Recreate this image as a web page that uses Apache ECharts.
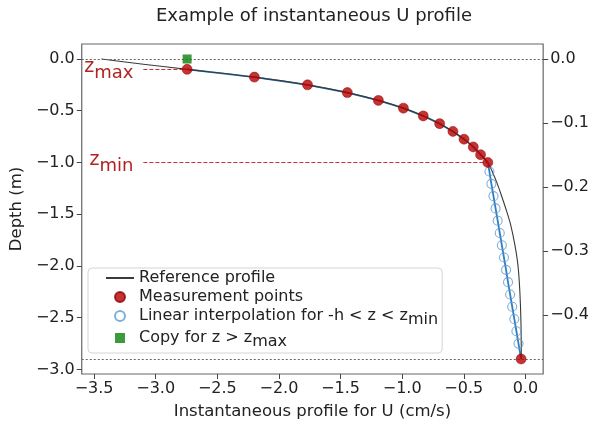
<!DOCTYPE html>
<html>
<head>
<meta charset="utf-8">
<title>Example of instantaneous U profile</title>
<script src="https://cdn.jsdelivr.net/npm/echarts@6/dist/echarts.min.js"></script>
<style>
    html, body { margin: 0; padding: 0; background: #fff; }
    #chart { width: 592px; height: 425px; }
</style>
</head>
<body>
<div id="chart"></div>
<script>
// water depth and the limits of the measured layer (m)
const h = 2.9;
const zMax = -0.1;
const zMin = -1.0;
const zLineStart = -3.1;

// reference profile
const refU = [-3.44, -3.10, -2.745, -2.199, -1.768, -1.445, -1.193, -0.990, -0.829, -0.696, -0.588, -0.498, -0.423, -0.364, -0.305,
    -0.265, -0.230, -0.200, -0.158, -0.120, -0.085, -0.060, -0.045, -0.036, -0.033];
const refZ = [0, -0.05, -0.1, -0.175, -0.25, -0.325, -0.4, -0.475, -0.55, -0.625, -0.7, -0.775, -0.85, -0.925, -1.0,
    -1.1, -1.2, -1.3, -1.45, -1.6, -1.8, -2.0, -2.25, -2.55, -2.9];

// measurement points (last one sits on the bottom)
const measU = [-2.745, -2.199, -1.768, -1.445, -1.193, -0.990, -0.829, -0.696, -0.588, -0.498, -0.423, -0.364, -0.305, -0.035];
const measZ = [-0.1, -0.175, -0.25, -0.325, -0.4, -0.475, -0.55, -0.625, -0.7, -0.775, -0.85, -0.925, -1.0, -2.9];

// interpolated values between z_min and the bottom
const interpU = [-0.292, -0.276, -0.259, -0.242, -0.225, -0.208, -0.191, -0.174, -0.157, -0.141, -0.124, -0.107, -0.090, -0.073, -0.056];
const interpZ = [-1.088, -1.207, -1.326, -1.444, -1.563, -1.682, -1.801, -1.919, -2.038, -2.157, -2.276, -2.395, -2.513, -2.632, -2.751];

// copied value above z_max
const copyU = [-2.745];
const copyZ = [0];

// tick labels
const xTicks = [-3.5, -3.0, -2.5, -2.0, -1.5, -1.0, -0.5, 0.0];
const yTicks = [0.0, -0.5, -1.0, -1.5, -2.0, -2.5, -3.0];
const rightTicks = [0.0, -0.1, -0.2, -0.3, -0.4];

const FONT = "DejaVu Sans";
const NAME_REF = "Reference profile";
const NAME_MEAS = "Measurement points";
const NAME_INTERP = "Linear interpolation for -h < z < z_min";
const NAME_COPY = "Copy for z > z_max";

const chart = echarts.init(document.getElementById("chart"), null, {renderer: "canvas"});

function pairs(us, zs) {
    return us.map((u, i) => [u, zs[i]]);
}

function fmt(v) {
    return v.toFixed(1).replace("-", "\u2212");
}

// blue line: measurement points with the interpolated values before the bottom point
const bluePts = pairs(measU.slice(0, 13), measZ.slice(0, 13))
    .concat(pairs(interpU, interpZ))
    .concat(pairs(measU.slice(13), measZ.slice(13)));

const zLabel = function (sub) {
    return {
        show: true,
        position: "start",
        distance: 10,
        formatter: "{z|z}{s|" + sub + "}",
        rich: {
            z: {fontFamily: FONT, fontSize: 19, color: "#b22222", padding: [0, 0, 4, 0]},
            s: {fontFamily: FONT, fontSize: 18, color: "#b22222", padding: [8, 0, 0, 0]}
        }
    };
};

function tickAxis(ticks) {
    return {
        axisLine: {show: false, onZero: false},
        axisTick: {show: true, inside: false, length: 5, lineStyle: {color: "#444"}, customValues: ticks},
        axisLabel: {fontFamily: FONT, fontSize: 16, color: "#222", margin: 7, formatter: fmt, customValues: ticks},
        splitLine: {show: false}
    };
}

const option = {
    animation: false,
    backgroundColor: "#fff",
    title: {
        text: "Example of instantaneous U profile",
        left: 309,
        textAlign: "center",
        top: 2,
        textStyle: {fontFamily: FONT, fontSize: 18, fontWeight: "normal", color: "#222"}
    },
    grid: {
        left: 78, right: 48, top: 44, bottom: 51,
        show: true, borderColor: "#666", borderWidth: 1.2
    },
    legend: {
        orient: "vertical",
        left: 88,
        top: 268,
        padding: [1, 4, 3, 17],
        itemWidth: 28,
        itemHeight: 10,
        itemGap: 1,
        selectedMode: false,
        backgroundColor: "rgba(255,255,255,0.85)",
        borderColor: "#d4d4d4",
        borderWidth: 1,
        borderRadius: 4,
        textStyle: {
            fontFamily: FONT, fontSize: 16, color: "#222", lineHeight: 18,
            rich: {
                t: {fontFamily: FONT, fontSize: 16, color: "#222", lineHeight: 18},
                s: {fontFamily: FONT, fontSize: 16, color: "#222", padding: [8, 0, 0, 0]}
            }
        },
        data: [
            {name: NAME_REF, itemStyle: {opacity: 0}},
            {name: NAME_MEAS},
            {name: NAME_INTERP},
            {name: NAME_COPY, icon: "path://M0,0 L10,0 L10,10 L0,10 Z"}
        ],
        formatter: function (name) {
            if (name === NAME_INTERP) return "{t|Linear interpolation for -h < z < z}{s|min}";
            if (name === NAME_COPY) return "{t|Copy for z > z}{s|max}";
            return name;
        }
    },
    xAxis: Object.assign({
        type: "value",
        min: -3.6,
        max: 0.144,
        name: "Instantaneous profile for U (cm/s)",
        nameLocation: "middle",
        nameGap: 29,
        nameTextStyle: {fontFamily: FONT, fontSize: 16.5, color: "#222"}
    }, tickAxis(xTicks)),
    yAxis: [
        Object.assign({
            type: "value",
            position: "left",
            min: -3.045,
            max: 0.145,
            name: "Depth (m)",
            nameLocation: "middle",
            nameRotate: 90,
            nameGap: 47,
            nameTextStyle: {fontFamily: FONT, fontSize: 16.5, color: "#222"}
        }, tickAxis(yTicks)),
        Object.assign({
            type: "value",
            position: "right",
            min: -0.4924,
            max: 0.0234
        }, tickAxis(rightTicks))
    ],
    series: [
        {
            name: "interp-line",
            type: "line",
            data: bluePts,
            symbol: "none",
            z: 2,
            lineStyle: {color: "#2f7ec0", width: 1.8},
            silent: true
        },
        {
            name: NAME_REF,
            type: "line",
            data: pairs(refU, refZ),
            symbol: "none",
            smooth: 0.3,
            z: 3,
            itemStyle: {color: "#3a3a3a"},
            lineStyle: {color: "#3a3a3a", width: 1.1},
            silent: true,
            markLine: {
                silent: true,
                symbol: "none",
                label: {show: false},
                lineStyle: {color: "#666", type: [2, 2], width: 1},
                data: [{yAxis: 0}, {yAxis: -h}]
            }
        },
        {
            name: NAME_INTERP,
            type: "scatter",
            data: pairs(interpU, interpZ),
            symbol: "circle",
            symbolSize: 9,
            z: 4,
            itemStyle: {color: "rgba(255,255,255,0)", borderColor: "#5f9ad2", borderWidth: 1.1}
        },
        {
            name: NAME_MEAS,
            type: "scatter",
            data: pairs(measU, measZ),
            symbol: "circle",
            symbolSize: 10,
            z: 5,
            itemStyle: {color: "#b80000", borderColor: "#900000", borderWidth: 0.6},
            markLine: {
                silent: true,
                symbol: "none",
                lineStyle: {color: "#c83232", type: [4, 2], width: 1.2},
                data: [
                    [{coord: [zLineStart, zMax], label: zLabel("max")}, {coord: [measU[0], zMax]}],
                    [{coord: [zLineStart, zMin], label: zLabel("min")}, {coord: [measU[12], zMin]}]
                ]
            }
        },
        {
            name: NAME_COPY,
            type: "scatter",
            data: pairs(copyU, copyZ),
            symbol: "rect",
            symbolSize: 9,
            z: 6,
            itemStyle: {color: "#0b800b"}
        }
    ]
};

chart.setOption(option);
</script>
</body>
</html>
